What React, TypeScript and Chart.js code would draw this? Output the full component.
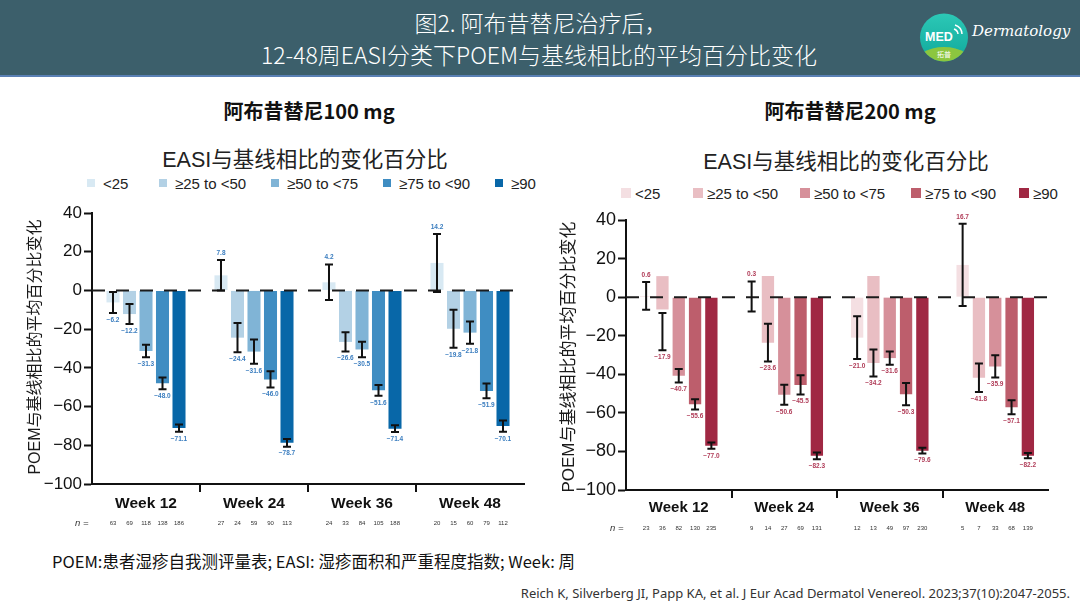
import React, { useEffect, useRef } from "react";
import { Chart, registerables } from "chart.js";

Chart.register(...registerables);

// ---------- data ----------
const weeks = ["Week 12", "Week 24", "Week 36", "Week 48"];
const easiGroups = ["<25", "≥25 to <50", "≥50 to <75", "≥75 to <90", "≥90"];
const yTickValues = [40, 20, 0, -20, -40, -60, -80, -100];

// Abrocitinib 100 mg: mean % change in POEM, rows = EASI group, cols = week
const mean100 = [
  [-6.2, 7.8, 4.2, 14.2],
  [-12.2, -24.4, -26.6, -19.8],
  [-31.3, -31.6, -30.5, -21.8],
  [-48.0, -46.0, -51.6, -51.9],
  [-71.1, -78.7, -71.4, -70.1],
];
const err100 = [
  [5.4, 7.9, 9.2, 15.0],
  [5.2, 7.6, 5.0, 9.8],
  [3.2, 6.3, 4.0, 5.8],
  [3.0, 4.2, 2.8, 3.8],
  [1.9, 2.0, 1.8, 2.9],
];
const n100 = [
  [63, 27, 24, 20],
  [69, 24, 33, 15],
  [118, 59, 84, 60],
  [138, 90, 105, 79],
  [186, 113, 188, 112],
];

// Abrocitinib 200 mg
const mean200 = [
  [0.6, 0.3, -21.0, 16.7],
  [-17.9, -23.6, -34.2, -41.8],
  [-40.7, -50.6, -31.6, -35.9],
  [-55.6, -45.5, -50.3, -57.1],
  [-77.0, -82.3, -79.6, -82.2],
];
const err200 = [
  [7.2, 7.8, 11.1, 21.3],
  [9.7, 9.8, 7.0, 7.4],
  [3.5, 5.2, 3.4, 5.8],
  [2.6, 5.0, 5.8, 3.6],
  [1.6, 1.7, 1.5, 1.4],
];
const n200 = [
  [23, 9, 12, 5],
  [36, 14, 13, 7],
  [82, 27, 49, 33],
  [130, 69, 97, 68],
  [235, 131, 230, 139],
];
// ≥25 to <50 bars of the 200 mg panel as they appear drawn in the figure (start, end)
const drawn200Group25: [number, number][] = [
  [-6.4, 10.9],
  [-23.6, 11.0],
  [-34.2, 11.0],
  [-41.8, 0],
];

const blues = ["#d8e9f3", "#b3d1e5", "#80b4d6", "#3f8dc2", "#0867a8"];
const reds = ["#f4dfe2", "#e9bec3", "#d6909a", "#bd5e6c", "#a02843"];

// ---------- helpers ----------
const SANS = "'Liberation Sans', Arial, sans-serif";
const MIX = "'Liberation Sans', 'Noto Sans CJK SC', sans-serif";
const CJK = "'Noto Sans CJK SC', 'Liberation Sans', sans-serif";

const fmt = (v: number) => (v < 0 ? "\u2212" + Math.abs(v).toFixed(1) : v.toFixed(1));

type PanelCfg = {
  left: number;
  top: number;
  width: number;
  height: number;
  padTop: number;
  padRight: number;
  yWidth: number;
  xHeight: number;
  tickSize: number;
  weekSize: number;
  weekPad: number;
  yTitleX: number;
  yTitleY: number;
  yTitleSize: number;
  catPct: number;
  barPct: number;
  nOffset: number;
  nLabelX: number;
  colors: string[];
  labelColor: string;
  bars: (number | [number, number])[][];
  means: number[][];
  errs: number[][];
  ns: number[][];
};

function makeOverlay(cfg: PanelCfg) {
  return {
    id: "overlay",
    afterDatasetsDraw(chart: any) {
      const ctx: CanvasRenderingContext2D = chart.ctx;
      const { left, right, bottom } = chart.chartArea;
      const y = chart.scales.y;
      const y0 = y.getPixelForValue(0);
      ctx.save();
      // dashed zero line
      ctx.strokeStyle = "#1b1b1b";
      ctx.lineWidth = 2;
      ctx.setLineDash([13, 11]);
      ctx.beginPath();
      ctx.moveTo(left, y0);
      ctx.lineTo(right, y0);
      ctx.stroke();
      ctx.setLineDash([]);

      cfg.means.forEach((row, di) => {
        const meta = chart.getDatasetMeta(di);
        row.forEach((m, wi) => {
          const el = meta.data[wi];
          if (!el) return;
          const x = el.x;
          const e = cfg.errs[di][wi];
          const yHi = y.getPixelForValue(m + e);
          const yLo = y.getPixelForValue(m - e);
          ctx.strokeStyle = "#111";
          ctx.lineWidth = 2;
          ctx.beginPath();
          ctx.moveTo(x, yHi);
          ctx.lineTo(x, yLo);
          ctx.moveTo(x - 4, yHi);
          ctx.lineTo(x + 4, yHi);
          ctx.moveTo(x - 4, yLo);
          ctx.lineTo(x + 4, yLo);
          ctx.stroke();

          ctx.font = `bold 6.5px ${SANS}`;
          ctx.fillStyle = cfg.labelColor;
          ctx.textAlign = "center";
          ctx.textBaseline = "middle";
          ctx.fillText(fmt(m), x, m >= 0 ? yHi - 7 : yLo + 7);

          ctx.font = `6px ${SANS}`;
          ctx.fillStyle = "#333";
          ctx.fillText(String(cfg.ns[di][wi]), x, bottom + cfg.nOffset);
        });
      });
      ctx.font = `italic 9.5px ${SANS}`;
      ctx.fillStyle = "#333";
      ctx.textAlign = "left";
      ctx.textBaseline = "middle";
      ctx.fillText("n =", cfg.nLabelX, bottom + cfg.nOffset);

      // y-axis title
      ctx.translate(cfg.yTitleX, cfg.yTitleY);
      ctx.rotate(-Math.PI / 2);
      ctx.font = `${cfg.yTitleSize}px ${MIX}`;
      ctx.fillStyle = "#1a1a1a";
      ctx.textAlign = "center";
      ctx.textBaseline = "middle";
      ctx.fillText("POEM与基线相比的平均百分比变化", 0, 0);
      ctx.restore();
    },
  };
}

function BarPanel({ cfg }: { cfg: PanelCfg }) {
  const ref = useRef<HTMLCanvasElement>(null);
  useEffect(() => {
    if (!ref.current) return;
    const chart = new Chart(ref.current, {
      type: "bar",
      data: {
        labels: weeks,
        datasets: easiGroups.map((g, i) => ({
          label: g,
          data: cfg.bars[i] as any,
          backgroundColor: cfg.colors[i],
          borderWidth: 0,
          categoryPercentage: cfg.catPct,
          barPercentage: cfg.barPct,
        })),
      },
      options: {
        responsive: false,
        animation: false,
        events: [],
        layout: { padding: { top: cfg.padTop, right: cfg.padRight, left: 0, bottom: 0 } },
        plugins: {
          legend: { display: false },
          title: { display: false },
          tooltip: { enabled: false },
        },
        scales: {
          x: {
            type: "category",
            offset: true,
            grid: {
              offset: true,
              drawOnChartArea: false,
              drawTicks: true,
              tickLength: 8,
              lineWidth: 2,
              color: (c: any) =>
                c.index === undefined || c.index === 0 ? "rgba(0,0,0,0)" : "#111",
            },
            border: { display: true, color: "#111", width: 2 },
            ticks: {
              color: "#111",
              padding: cfg.weekPad,
              autoSkip: false,
              maxRotation: 0,
              font: { family: SANS, size: cfg.weekSize, weight: "bold" },
            },
            afterFit: (s: any) => {
              s.height = cfg.xHeight;
            },
          },
          y: {
            min: -100,
            max: 40,
            afterBuildTicks: (s: any) => {
              s.ticks = yTickValues.map((v) => ({ value: v }));
            },
            grid: {
              drawOnChartArea: false,
              drawTicks: true,
              tickLength: 8,
              tickWidth: 2,
              tickColor: "#111",
            },
            border: { display: true, color: "#111", width: 2 },
            ticks: {
              color: "#111",
              padding: 2,
              font: { family: SANS, size: cfg.tickSize },
              callback: (v: any) => String(v).replace("-", "\u2212"),
            },
            afterFit: (s: any) => {
              s.width = cfg.yWidth;
            },
          },
        },
      },
      plugins: [makeOverlay(cfg)],
    });
    return () => chart.destroy();
  }, [cfg]);
  return (
    <canvas
      ref={ref}
      width={cfg.width}
      height={cfg.height}
      style={{
        position: "absolute",
        left: cfg.left,
        top: cfg.top,
        width: cfg.width,
        height: cfg.height,
      }}
    />
  );
}

const leftCfg: PanelCfg = {
  left: 20,
  top: 190,
  width: 525,
  height: 350,
  padTop: 23,
  padRight: 21,
  yWidth: 72,
  xHeight: 56,
  tickSize: 17,
  weekSize: 15.5,
  weekPad: 2,
  yTitleX: 16,
  yTitleY: 157,
  yTitleSize: 16,
  catPct: 0.764,
  barPct: 0.79,
  nOffset: 39,
  nLabelX: 55,
  colors: blues,
  labelColor: "#3a7dbf",
  bars: mean100,
  means: mean100,
  errs: err100,
  ns: n100,
};

const rightCfg: PanelCfg = {
  left: 550,
  top: 195,
  width: 525,
  height: 350,
  padTop: 25,
  padRight: 27,
  yWidth: 76,
  xHeight: 55,
  tickSize: 18,
  weekSize: 15,
  weekPad: 1,
  yTitleX: 19,
  yTitleY: 162,
  yTitleSize: 17,
  catPct: 0.773,
  barPct: 0.755,
  nOffset: 38,
  nLabelX: 60,
  colors: reds,
  labelColor: "#b03c58",
  bars: mean200.map((row, i) => (i === 1 ? drawn200Group25 : row)),
  means: mean200,
  errs: err200,
  ns: n200,
};

function Legend({ y, xs, box, gap, colors }: { y: number; xs: number[]; box: number; gap: number; colors: string[] }) {
  return (
    <>
      {easiGroups.map((g, i) => (
        <div
          key={g}
          style={{
            position: "absolute",
            left: xs[i],
            top: y - 10,
            height: 20,
            display: "flex",
            alignItems: "center",
            whiteSpace: "nowrap",
            fontFamily: SANS,
            fontSize: 15,
            color: "#222",
          }}
        >
          <span style={{ width: box, height: box, background: colors[i], marginRight: gap, display: "inline-block" }} />
          <span>{g}</span>
        </div>
      ))}
    </>
  );
}

function CenterText({ x, y, size, text, weight = 400, color = "#222", family = CJK }: any) {
  return (
    <div
      style={{
        position: "absolute",
        left: x - 300,
        width: 600,
        top: y - size,
        height: size * 2,
        lineHeight: `${size * 2}px`,
        textAlign: "center",
        fontSize: size,
        fontWeight: weight,
        color,
        fontFamily: family,
        whiteSpace: "nowrap",
      }}
    >
      {text}
    </div>
  );
}

function Logo() {
  return (
    <svg width={60} height={60} viewBox="0 0 60 60" style={{ position: "absolute", left: 914, top: 8 }}>
      <defs>
        <clipPath id="lc">
          <circle cx="30" cy="29.5" r="24" />
        </clipPath>
        <linearGradient id="lg" x1="0" y1="0" x2="0" y2="1">
          <stop offset="0" stopColor="#2cc8b6" />
          <stop offset="1" stopColor="#10a89b" />
        </linearGradient>
      </defs>
      <circle cx="30" cy="29.5" r="24" fill="url(#lg)" />
      <g clipPath="url(#lc)">
        <ellipse cx="30" cy="58" rx="30" ry="19" fill="#8cc63f" />
      </g>
      <text x="25" y="33" fill="#fff" fontSize="12.5" fontWeight="bold" textAnchor="middle" fontFamily={SANS}>
        MED
      </text>
      <path d="M40 21 a6 6 0 0 1 4 5" stroke="#fff" strokeWidth="1.5" fill="none" />
      <path d="M41 17 a10 10 0 0 1 7 9" stroke="#fff" strokeWidth="1.5" fill="none" />
      <text x="30" y="49" fill="#fff" fontSize="7" textAnchor="middle" fontFamily={CJK}>
        拓普
      </text>
    </svg>
  );
}

export default function App() {
  return (
    <div
      style={{
        position: "absolute",
        left: 0,
        top: 0,
        width: 1080,
        height: 608,
        overflow: "hidden",
        background: "#ffffff",
      }}
    >
      {/* header */}
      <div
        style={{
          position: "absolute",
          left: 0,
          top: 0,
          width: 1080,
          height: 75,
          background: "#3c5f6b",
          borderBottom: "2px solid #5a80b4",
        }}
      />
      <CenterText x={541} y={22} size={23} weight={300} text="图2. 阿布昔替尼治疗后，" color="#ffffff" />
      <CenterText x={539} y={54} size={23} weight={300} text="12-48周EASI分类下POEM与基线相比的平均百分比变化" color="#ffffff" />
      <Logo />
      <div
        style={{
          position: "absolute",
          left: 972,
          top: 22,
          fontFamily: "'DejaVu Serif', serif",
          fontStyle: "italic",
          fontSize: 15,
          color: "#ffffff",
          whiteSpace: "nowrap",
        }}
      >
        Dermatology
      </div>

      {/* panel headings */}
      <CenterText x={309} y={111} size={20} weight={700} text="阿布昔替尼100 mg" color="#111" />
      <CenterText x={850} y={111} size={20} weight={700} text="阿布昔替尼200 mg" color="#111" />

      <CenterText x={305} y={160} size={21.5} text="EASI与基线相比的变化百分比" family={MIX} color="#222" />
      <CenterText x={846} y={162} size={21.5} text="EASI与基线相比的变化百分比" family={MIX} color="#222" />

      <Legend y={183} xs={[87, 159, 271, 383, 495]} box={8} gap={8} colors={blues} />
      <Legend y={193} xs={[621, 693, 800, 911, 1019]} box={10} gap={4} colors={reds} />

      <BarPanel cfg={leftCfg} />
      <BarPanel cfg={rightCfg} />

      {/* footer */}
      <div
        style={{
          position: "absolute",
          left: 52,
          top: 549,
          fontFamily: CJK,
          fontSize: 16.5,
          color: "#111",
          whiteSpace: "nowrap",
        }}
      >
        POEM:患者湿疹自我测评量表; EASI: 湿疹面积和严重程度指数; Week: 周
      </div>
      <div
        style={{
          position: "absolute",
          right: 10,
          top: 584,
          fontFamily: "'Noto Sans', sans-serif",
          fontSize: 13,
          color: "#333",
          whiteSpace: "nowrap",
        }}
      >
        Reich K, Silverberg JI, Papp KA, et al. J Eur Acad Dermatol Venereol. 2023;37(10):2047-2055.
      </div>
    </div>
  );
}
